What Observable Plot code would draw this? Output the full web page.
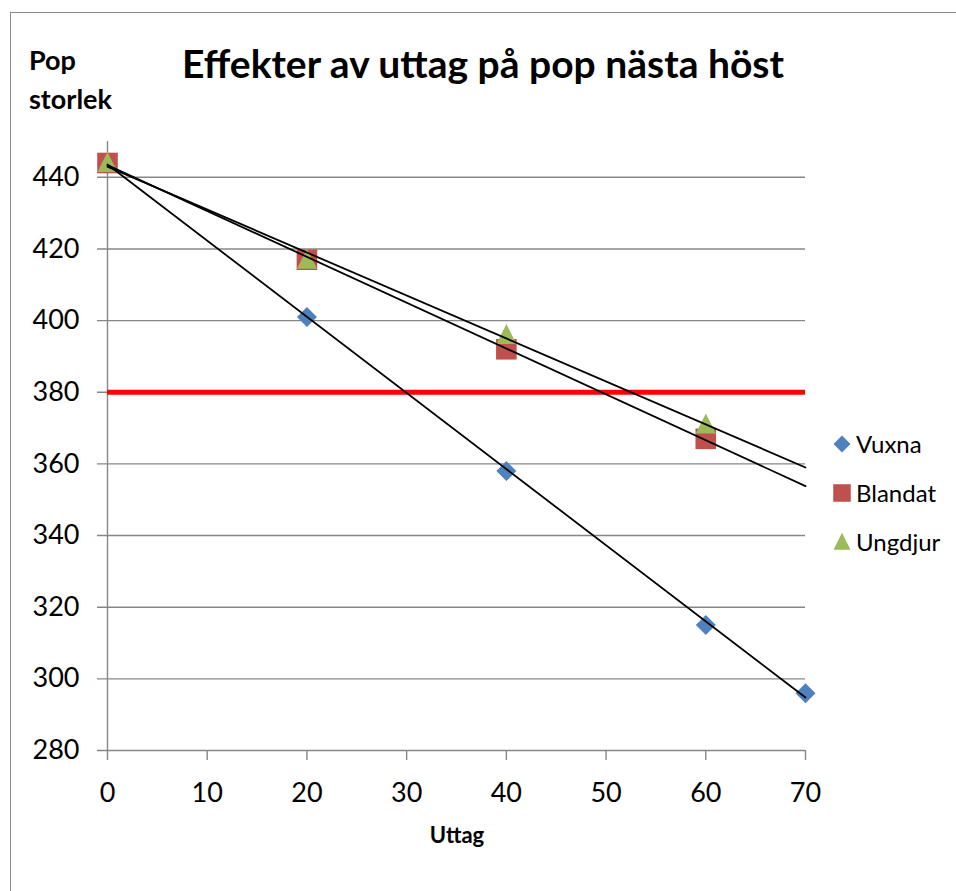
<!DOCTYPE html>
<html>
<head>
<meta charset="utf-8">
<script src="https://cdn.jsdelivr.net/npm/d3@7"></script>
<script src="https://cdn.jsdelivr.net/npm/@observablehq/plot@0.6"></script>
<style>
  html, body { margin: 0; padding: 0; background: #fff; }
  body { width: 956px; height: 891px; position: relative; overflow: hidden; font-family: Lato, "Open Sans", sans-serif; }
  #frame { position: absolute; left: 10px; top: 12px; width: 2000px; height: 2000px; border-left: 1.5px solid #8a8a8a; border-top: 1.5px solid #8a8a8a; box-sizing: border-box; }
  #chart { position: absolute; left: 0; top: 0; }
  .lbl { position: absolute; color: #000; white-space: nowrap; }
  #title { left: 0; width: 966px; text-align: center; top: 44px; font-size: 39px; line-height: 39px; font-weight: bold; }
  #ylab { left: 29px; top: 40px; font-size: 27px; line-height: 39px; font-weight: bold; }
  #xlab { left: 357px; width: 200px; text-align: center; top: 824px; font-size: 22px; line-height: 22px; font-weight: bold; }
  .leg { position: absolute; left: 832px; height: 24px; display: flex; align-items: center; font-size: 24px; line-height: 24px; }
  .leg svg { margin-right: 4px; }
</style>
</head>
<body>
<div id="frame"></div>
<div id="chart"></div>
<div id="title" class="lbl">Effekter av uttag på pop nästa höst</div>
<div id="ylab" class="lbl">Pop<br>storlek</div>
<div id="xlab" class="lbl">Uttag</div>
<div id="legend"></div>
<script>
// ---- data ----
const uttag = [0, 20, 40, 60, 70];
const vuxna = [444, 401, 358, 315, 296];
const blandat = [444, 417, 392, 367];
const ungdjur = [444, 417, 396, 371];
const seriesNames = ["Vuxna", "Blandat", "Ungdjur"];
const seriesColors = ["#4F81BD", "#C0504D", "#9BBB59"];
const xTicks = [0, 10, 20, 30, 40, 50, 60, 70];
const yTicks = [280, 300, 320, 340, 360, 380, 400, 420, 440];
const xDomain = [0, 70];
const yDomain = [280, 450];
const threshold = [380];

// ---- symbols ----
const diamond = { draw(c, size) { const h = Math.sqrt(size) / 2; c.moveTo(0, -h); c.lineTo(h, 0); c.lineTo(0, h); c.lineTo(-h, 0); c.closePath(); } };
const square = { draw(c, size) { const h = Math.sqrt(size) / 2 * 1.03; c.moveTo(-h, -h); c.lineTo(h, -h); c.lineTo(h, h); c.lineTo(-h, h); c.closePath(); } };
const triangle = { draw(c, size) { const h = Math.sqrt(size) / 2; c.moveTo(0, -h * 1.1); c.lineTo(h, h * 0.9); c.lineTo(-h, h * 0.9); c.closePath(); } };
const symbols = [diamond, square, triangle];

const allSeries = [vuxna, blandat, ungdjur];
const points = allSeries.map((ys, i) => ys.map((y, j) => ({ x: uttag[j], y, s: seriesNames[i] })));

function regression(pts) {
  const mx = d3.mean(pts, d => d.x), my = d3.mean(pts, d => d.y);
  const sxy = d3.sum(pts, d => (d.x - mx) * (d.y - my));
  const sxx = d3.sum(pts, d => (d.x - mx) ** 2);
  const b = sxy / sxx, a = my - b * mx;
  return xDomain.map(x => ({ x, y: a + b * x, s: pts[0].s }));
}
const trends = points.map(regression);

const r = Math.sqrt(400 / Math.PI);
const gridColor = "#878787";

const chart = Plot.plot({
  width: 956,
  height: 891,
  marginLeft: 107,
  marginRight: 151,
  marginTop: 141,
  marginBottom: 141,
  style: { fontFamily: "Lato, 'Open Sans', sans-serif", fontSize: "27px", color: "#000", background: "transparent" },
  x: { domain: xDomain, ticks: xTicks, label: null },
  y: { domain: yDomain, ticks: yTicks, label: null },
  marks: [
    Plot.ruleY(yTicks, { stroke: gridColor, strokeWidth: 1.4, insetLeft: -10 }),
    Plot.ruleX(xDomain.slice(0, 1), { stroke: gridColor, strokeWidth: 1.4 }),
    Plot.axisX({ ticks: xTicks, tickSize: 10, tickPadding: 22, stroke: gridColor, strokeWidth: 1.4, fontSize: 27, tickFormat: d => String(d) }),
    Plot.axisY({ ticks: yTicks, tickSize: 0, tickPadding: 28, fontSize: 27, tickFormat: d => String(d) }),
    Plot.ruleY(threshold, { stroke: "#FF0000", strokeWidth: 5 }),
    ...points.map((pts, i) => Plot.dot(pts, { x: "x", y: "y", r, symbol: symbols[i], fill: seriesColors[i], stroke: "none" })),
    ...trends.map(t => Plot.line(t, { x: "x", y: "y", stroke: "#000", strokeWidth: 1.8 }))
  ]
});
document.getElementById("chart").appendChild(chart);

// ---- legend ----
const legendTops = [432, 480.5, 529.5];
const legend = document.getElementById("legend");
seriesNames.forEach((name, i) => {
  const row = document.createElement("div");
  row.className = "leg";
  row.style.top = legendTops[i] + "px";
  const svg = d3.create("svg").attr("width", 20).attr("height", 20).attr("viewBox", "-10 -10 20 20");
  svg.append("path").attr("d", d3.symbol(symbols[i], 290)()).attr("fill", seriesColors[i]);
  row.appendChild(svg.node());
  const t = document.createElement("span");
  t.textContent = name;
  row.appendChild(t);
  legend.appendChild(row);
});
</script>
</body>
</html>
